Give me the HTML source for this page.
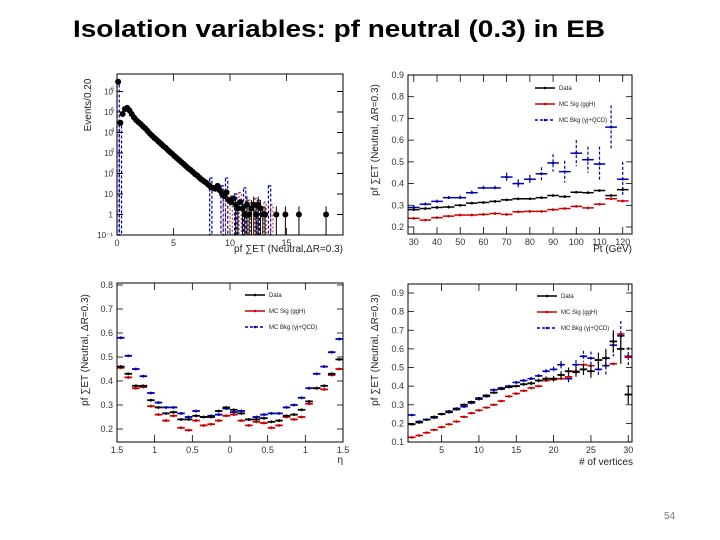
<!DOCTYPE html>
<html><head><meta charset="utf-8"><style>
html,body{margin:0;padding:0;background:#fff;width:720px;height:540px;overflow:hidden}
svg{display:block;font-family:"Liberation Sans",sans-serif}
</style></head><body>
<svg id="s" width="720" height="540" viewBox="0 0 720 540">
<text x="73" y="37" font-size="24" font-weight="bold" textLength="532" lengthAdjust="spacingAndGlyphs">Isolation variables:  pf neutral (0.3) in EB</text>
<text x="664" y="519" font-size="10" fill="#777">54</text>
</svg>
<script>
// ---------- Panel 1 data (log histogram) ----------
const p1Centers=[0.1,0.3,0.5,0.7,0.9,1.1,1.3,1.5,1.7,1.9,2.1,2.3,2.5,2.7,2.9,3.1,3.3,3.5,3.7,3.9,4.1,4.3,4.5,4.7,4.9,5.1,5.3,5.5,5.7,5.9,6.1,6.3,6.5,6.7,6.9,7.1,7.3,7.5,7.7,7.9,8.1,8.3,8.5,8.7,8.9,9.1,9.3,9.5,9.7,9.9,10.1,10.3,10.5,10.7,10.9,11.1,11.3,11.5,11.7,11.9,12.1,12.3,12.5,12.7,12.9,13.1,14.1,14.9,16.1,18.5];
const p1Data=[3e6,3e4,8e4,1.4e5,1.6e5,1.2e5,8e4,5.5e4,4e4,3.2e4,2.6e4,2e4,1.6e4,1.2e4,9e3,7e3,5.5e3,4.5e3,3.5e3,2.8e3,2.2e3,1.8e3,1.4e3,1.1e3,900,700,560,450,360,290,230,180,150,120,95,80,62,50,42,35,28,22,20,18,25,15,10,8,12,5,4,6,3,2,4,2,1,3,1,2,3,1,3,2,1,1,1,1,1,1];
const p1BkgCenters=[0.1,0.3,8.3,9.3,9.7,10.5,11.3,12.5,13.5];
const p1Bkg=[3e6,3e4,60,25,60,10,20,5,25];
const p1SigCenters=[9.5,10.1,10.9,11.7,12.3,13.1,13.7];
const p1Sig=[15,8,12,5,6,4,3];
const p1YTicks=[-1,0,1,2,3,4,5,6];
const p1XTicks=[0,5,10,15];

// ---------- Panel 2 data (vs Pt) ----------
const p2X=[30,35,40,45,50,55,60,65,70,75,80,85,90,95,100,105,110,115,120];
const p2Data=[0.28,0.285,0.29,0.292,0.30,0.31,0.313,0.318,0.325,0.33,0.33,0.335,0.345,0.34,0.36,0.358,0.368,0.345,0.372];
const p2Sig=[0.24,0.232,0.243,0.25,0.255,0.255,0.258,0.262,0.258,0.27,0.272,0.272,0.28,0.285,0.295,0.288,0.305,0.33,0.32];
const p2Bkg=[0.29,0.305,0.318,0.335,0.335,0.358,0.38,0.38,0.43,0.40,0.42,0.445,0.495,0.455,0.54,0.51,0.49,0.66,0.42];
const p2BkgErr=[0.01,0.008,0.008,0.008,0.01,0.01,0.01,0.01,0.02,0.02,0.02,0.03,0.04,0.05,0.06,0.06,0.08,0.1,0.08];
const p2YTicks=[0.2,0.3,0.4,0.5,0.6,0.7,0.8,0.9];
const p2XTicks=[30,40,50,60,70,80,90,100,110,120];

// ---------- Panel 3 data (vs eta) ----------
const p3X=[-1.45,-1.35,-1.25,-1.15,-1.05,-0.95,-0.85,-0.75,-0.65,-0.55,-0.45,-0.35,-0.25,-0.15,-0.05,0.05,0.15,0.25,0.35,0.45,0.55,0.65,0.75,0.85,0.95,1.05,1.15,1.25,1.35,1.45];
const p3Data=[0.46,0.43,0.38,0.38,0.32,0.29,0.265,0.27,0.24,0.24,0.255,0.25,0.25,0.275,0.29,0.28,0.265,0.24,0.24,0.245,0.23,0.235,0.255,0.26,0.28,0.315,0.37,0.38,0.43,0.49];
const p3Sig=[0.455,0.415,0.37,0.375,0.295,0.26,0.235,0.255,0.205,0.195,0.235,0.215,0.22,0.235,0.255,0.26,0.235,0.215,0.23,0.225,0.205,0.215,0.25,0.24,0.25,0.305,0.37,0.365,0.425,0.45];
const p3Bkg=[0.58,0.505,0.45,0.42,0.35,0.31,0.29,0.29,0.265,0.25,0.275,0.25,0.255,0.26,0.285,0.27,0.275,0.24,0.25,0.26,0.265,0.265,0.29,0.30,0.33,0.37,0.43,0.46,0.52,0.575];
const p3YTicks=[0.2,0.3,0.4,0.5,0.6,0.7,0.8];
const p3XTicks=[-1.5,-1,-0.5,0,0.5,1,1.5];
const p3XLabels=["1.5","1","0.5","0","0.5","1","1.5"];

// ---------- Panel 4 data (vs nvtx) ----------
const p4X=[1,2,3,4,5,6,7,8,9,10,11,12,13,14,15,16,17,18,19,20,21,22,23,24,25,26,27,28,29,30];
const p4Data=[0.195,0.205,0.22,0.235,0.25,0.26,0.275,0.30,0.315,0.335,0.35,0.365,0.385,0.395,0.40,0.41,0.415,0.43,0.44,0.44,0.46,0.48,0.475,0.49,0.48,0.54,0.55,0.64,0.60,0.355];
const p4DataErr=[0.005,0.005,0.005,0.005,0.005,0.005,0.005,0.005,0.005,0.005,0.005,0.006,0.006,0.007,0.008,0.008,0.01,0.01,0.012,0.015,0.02,0.02,0.025,0.03,0.035,0.04,0.05,0.06,0.08,0.05];
const p4Sig=[0.125,0.135,0.15,0.165,0.18,0.195,0.21,0.235,0.255,0.27,0.285,0.30,0.32,0.345,0.36,0.375,0.39,0.40,0.43,0.435,0.44,0.45,0.48,0.515,0.51,0.54,0.55,0.52,0.68,0.555];
const p4Bkg=[0.245,0.21,0.22,0.23,0.25,0.265,0.28,0.29,0.31,0.33,0.345,0.38,0.39,0.40,0.42,0.43,0.44,0.455,0.48,0.49,0.515,0.44,0.515,0.56,0.55,0.49,0.51,0.62,0.67,0.56];
const p4YTicks=[0.1,0.2,0.3,0.4,0.5,0.6,0.7,0.8,0.9];
const p4XTicks=[5,10,15,20,25,30];

const NS="http://www.w3.org/2000/svg";
const svg=document.getElementById('s');
function mk(tag,attrs,parent,txt){const e=document.createElementNS(NS,tag);for(const k in attrs)e.setAttribute(k,attrs[k]);if(txt!==undefined)e.textContent=txt;(parent||svg).appendChild(e);return e;}
function lin(d0,d1,r0,r1){return v=>r0+(v-d0)/(d1-d0)*(r1-r0);}

function frame(g,L,T,R,B,name){
  const r=mk('rect',{x:L,y:T,width:R-L,height:B-T,fill:'none',stroke:'#000','stroke-width':1},g);
  
  
}
function yAxis(g,L,R,ys,ticks,labels,name){
  ticks.forEach((t,i)=>{
    const y=ys(t);
    mk('line',{x1:L,x2:L+6,y1:y,y2:y,stroke:'#000','stroke-width':0.8},g);
    mk('line',{x1:R,x2:R-6,y1:y,y2:y,stroke:'#000','stroke-width':0.8},g);
    const tx=mk('text',{x:L-4,y:y+3,'font-size':9,'text-anchor':'end',fill:'#333'},g,labels[i]);
    
    
  });
}
function xAxis(g,T,B,xs,ticks,labels,name){
  ticks.forEach((t,i)=>{
    const x=xs(t);
    mk('line',{x1:x,x2:x,y1:B,y2:B-7,stroke:'#000','stroke-width':0.8},g);
    mk('line',{x1:x,x2:x,y1:T,y2:T+7,stroke:'#000','stroke-width':0.8},g);
    const tx=mk('text',{x:x,y:B+11,'font-size':9,'text-anchor':'middle',fill:'#333'},g,labels[i]);
    
    
  });
}
function series(g,xs,ys,X,Y,err,hw,color,w,dash,name){
  X.forEach((xv,i)=>{
    const x=xs(xv),y=ys(Y[i]);
    const sg=mk('g',{},g);
    
    
    mk('line',{x1:xs(xv-hw),x2:xs(xv+hw),y1:y,y2:y,stroke:color,'stroke-width':w},sg);
    const e=err?err[i]:0.006;
    mk('line',{x1:x,x2:x,y1:ys(Y[i]+e),y2:ys(Y[i]-e),stroke:color,'stroke-width':1.2,'stroke-dasharray':dash||'none'},sg);
    mk('circle',{cx:x,cy:y,r:1.3,fill:color},sg);
  });
}
function legend(g,x,y,name){
  const items=[["Data","#000",""],["MC Sig (ggH)","#c00",""],["MC Bkg (\u03b3j+QCD)","#00a","3,2"]];
  items.forEach((it,i)=>{
    const lg=mk('g',{},g);
    
    
    const yy=y+i*16;
    mk('line',{x1:x,x2:x+20,y1:yy,y2:yy,stroke:it[1],'stroke-width':1.5,'stroke-dasharray':it[2]||'none'},lg);
    mk('circle',{cx:x+10,cy:yy,r:1.3,fill:it[1]},lg);
    mk('text',{x:x+24,y:yy+2,'font-size':6,fill:'#222'},lg,it[0]);
  });
}
function yTitle(g,x,y,txt,name){
  const t=mk('text',{x:0,y:0,'font-size':10,'text-anchor':'middle',fill:'#222',transform:`translate(${x},${y}) rotate(-90)`},g,txt);
  
  
}
function xTitle(g,x,y,txt,name){
  const t=mk('text',{x:x,y:y,'font-size':10,'text-anchor':'end',fill:'#222'},g,txt);
  
  
}
const yt="pf \u2211ET (Neutral, \u0394R=0.3)";

// ---- Panel 1 ----
(function(){
  const g=mk('g',{});
  
  
  const L=117,T=74,R=343,B=235;
  const xs=lin(0,20,L,R), ys=v=>B-(Math.log10(v)+1)*20.5;
  const yl=lin(-1,6,B,B-7*20.5);
  // dashed histograms
  p1BkgCenters.forEach((c,i)=>{
    const b=mk('rect',{x:xs(c-0.1),y:ys(p1Bkg[i]),width:xs(0.2)-xs(0),height:B-ys(p1Bkg[i]),fill:'none',stroke:'#00a','stroke-width':1.2,'stroke-dasharray':'3,2'},g);
    
    
  });
  p1SigCenters.forEach((c,i)=>{
    const b=mk('rect',{x:xs(c-0.1),y:ys(p1Sig[i]),width:xs(0.2)-xs(0),height:B-ys(p1Sig[i]),fill:'none',stroke:'#a22','stroke-width':1,'stroke-dasharray':'2,2'},g);
    
    
  });
  p1Centers.forEach((c,i)=>{
    const y=ys(p1Data[i]);
    const pg=mk('g',{},g);
    
    
    if(p1Data[i]<=3) mk('line',{x1:xs(c),x2:xs(c),y1:ys(p1Data[i]*2.5),y2:B,stroke:'#000','stroke-width':1},pg);
    mk('circle',{cx:xs(c),cy:y,r:3,fill:'#000'},pg);
  });
  frame(g,L,T,R,B,'panel1');
  p1YTicks.forEach(t=>{
    const y=yl(t);
    mk('line',{x1:L,x2:L+6,y1:y,y2:y,stroke:'#000'},g);
    mk('line',{x1:R,x2:R-6,y1:y,y2:y,stroke:'#000'},g);
    const lab=t===-1?"10\u207b\u00b9":t===0?"1":t===1?"10":"10";
    const tx=mk('text',{x:L-4,y:y+3,'font-size':8,'text-anchor':'end',fill:'#333'},g,lab);
    
    
    if(t>=2) mk('text',{x:L-3,y:y-1,'font-size':5,'text-anchor':'end',fill:'#333'},tx.parentNode,String(t));
  });
  xAxis(g,T,B,xs,p1XTicks,p1XTicks.map(String),'panel1');
  yTitle(g,91,105,"Events/0.20",'panel1');
  xTitle(g,343,252,"pf \u2211ET (Neutral,\u0394R=0.3)",'panel1');
})();

// ---- Panel 2 ----
(function(){
  const g=mk('g',{});
  
  
  const L=408,T=75,R=632,B=234;
  const xs=lin(27.5,124,L,R), ys=lin(0.2,0.9,227,75);
  series(g,xs,ys,p2X,p2Bkg,p2BkgErr,2.5,'#00a',1.5,'3,2','bkg');
  series(g,xs,ys,p2X,p2Sig,null,2.5,'#c00',1.5,'','sig');
  series(g,xs,ys,p2X,p2Data,null,2.5,'#000',1.5,'','data');
  frame(g,L,T,R,B,'panel2');
  yAxis(g,L,R,ys,p2YTicks,p2YTicks.map(v=>v.toFixed(1)),'panel2');
  xAxis(g,T,B,xs,p2XTicks,p2XTicks.map(String),'panel2');
  legend(g,535,88,'panel2');
  yTitle(g,378,140,yt,'panel2');
  xTitle(g,632,252,"Pt (GeV)",'panel2');
})();

// ---- Panel 3 ----
(function(){
  const g=mk('g',{});
  
  
  const L=117,T=283,R=343,B=442;
  const xs=lin(-1.5,1.5,L,R), ys=lin(0.2,0.8,429,285);
  series(g,xs,ys,p3X,p3Bkg,null,0.05,'#00a',1.8,'','bkg');
  series(g,xs,ys,p3X,p3Sig,null,0.05,'#c00',1.8,'','sig');
  series(g,xs,ys,p3X,p3Data,null,0.05,'#000',1.8,'','data');
  frame(g,L,T,R,B,'panel3');
  yAxis(g,L,R,ys,p3YTicks,p3YTicks.map(v=>v.toFixed(1)),'panel3');
  xAxis(g,T,B,xs,p3XTicks,p3XLabels,'panel3');
  legend(g,245,295,'panel3');
  yTitle(g,88,350,yt,'panel3');
  xTitle(g,343,463,"\u03b7",'panel3');
})();

// ---- Panel 4 ----
(function(){
  const g=mk('g',{});
  
  
  const L=408,T=284,R=632,B=442;
  const xs=lin(0.5,30.5,L,R), ys=lin(0.1,0.9,442,293);
  series(g,xs,ys,p4X,p4Bkg,p4DataErr,0.5,'#00a',1.6,'3,2','bkg');
  series(g,xs,ys,p4X,p4Sig,null,0.5,'#c00',1.6,'','sig');
  series(g,xs,ys,p4X,p4Data,p4DataErr,0.5,'#000',1.8,'','data');
  frame(g,L,T,R,B,'panel4');
  yAxis(g,L,R,ys,p4YTicks,p4YTicks.map(v=>v.toFixed(1)),'panel4');
  xAxis(g,T,B,xs,p4XTicks,p4XTicks.map(String),'panel4');
  legend(g,537,296,'panel4');
  yTitle(g,378,350,yt,'panel4');
  xTitle(g,633,465,"# of vertices",'panel4');
})();
</script>
</body></html>
